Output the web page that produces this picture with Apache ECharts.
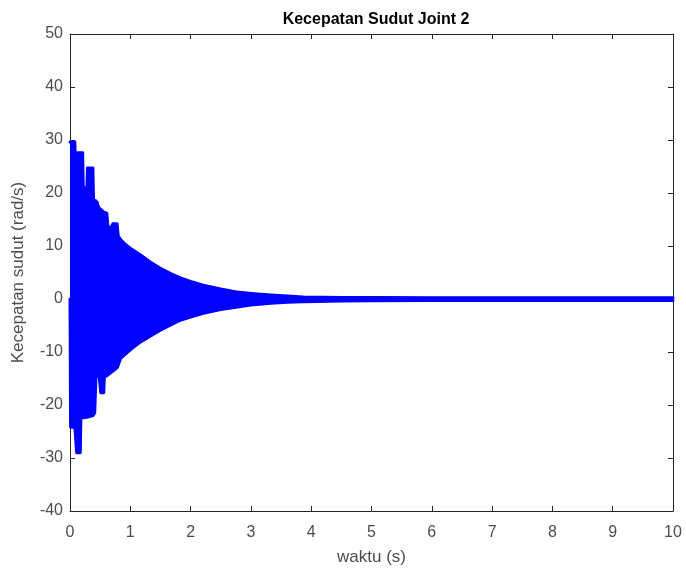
<!DOCTYPE html>
<html>
<head>
<meta charset="utf-8">
<script src="https://cdn.jsdelivr.net/npm/echarts@6/dist/echarts.min.js"></script>
<style>html,body{margin:0;padding:0;background:#fff}#c{width:686px;height:569px}</style>
</head>
<body>
<div id="c"></div>
<script>
// time samples (s)
const timeS = [0, 0.01, 0.08, 0.09, 0.11, 0.12, 0.17, 0.18, 0.21, 0.22, 0.28, 0.29, 0.38, 0.39, 0.41, 0.43, 0.46, 0.48, 0.5, 0.51, 0.56, 0.57, 0.61, 0.63, 0.69, 0.71, 0.78, 0.8, 0.84, 0.9, 1.0, 1.17, 1.33, 1.5, 1.67, 1.83, 2.0, 2.21, 2.5, 2.78, 3.0, 3.33, 3.6, 3.87, 4.5, 5, 6, 7, 8, 9, 10];
// upper envelope of the oscillation (rad/s)
const upperV = [29.6, 29.6, 29.6, 25.6, 25.6, 27.6, 27.6, 27.6, 27.6, 21, 21, 24.7, 24.7, 18.7, 18.7, 18.5, 18.3, 17.2, 17.0, 17.0, 16.4, 16.3, 16.2, 13.6, 13.6, 14.2, 14.2, 11.9, 11.2, 10.5, 9.6, 8.3, 7.0, 5.8, 4.8, 4.0, 3.3, 2.6, 1.9, 1.3, 1.05, 0.75, 0.55, 0.4, 0.3, 0.28, 0.25, 0.25, 0.25, 0.25, 0.25];
// lower envelope of the oscillation (rad/s)
const lowerV = [0, -24.2, -24.2, -24.2, -29, -29, -29, -22.5, -22.5, -22.4, -22.3, -22.2, -22, -21.8, -21.5, -14.7, -14.5, -14.2, -14, -17.7, -17.7, -14.7, -14.5, -14.3, -13.8, -13.5, -13, -12.8, -11.2, -10.6, -9.6, -8.1, -7.0, -5.9, -4.9, -4.0, -3.4, -2.7, -2.0, -1.5, -1.15, -0.8, -0.6, -0.5, -0.38, -0.33, -0.3, -0.3, -0.3, -0.3, -0.3];
const xTicks = [0,1,2,3,4,5,6,7,8,9,10];
const yTicks = [-40,-30,-20,-10,0,10,20,30,40,50];

const blue = '#0000ff';
const font = '"Liberation Sans", Arial, sans-serif';
const axisCol = '#262626';
const labCol = '#4d4d4d';

const lowerPts = timeS.map((t,i)=>[t, lowerV[i]]);
const upperPts = timeS.map((t,i)=>[t, upperV[i]]);
// band segments between consecutive samples
const segs = [];
for (let i=0;i<timeS.length-1;i++){
  segs.push([timeS[i], lowerV[i], upperV[i], timeS[i+1], lowerV[i+1], upperV[i+1]]);
}

function xAx(pos, show){
  return {type:'value', position:pos, min:xTicks[0], max:xTicks[xTicks.length-1], interval:1,
    axisLine:{show:true, onZero:false, lineStyle:{color:axisCol, width:1}},
    axisTick:{show:true, inside:true, length:5, lineStyle:{color:axisCol}},
    axisLabel:{show:show, color:labCol, fontSize:16, fontFamily:font, margin:14},
    splitLine:{show:false},
    name: show ? 'waktu (s)' : '', nameLocation:'middle', nameGap:38,
    nameTextStyle:{color:labCol, fontSize:17, fontFamily:font}};
}
function yAx(pos, show){
  return {type:'value', position:pos, min:yTicks[0], max:yTicks[yTicks.length-1], interval:10,
    axisLine:{show:true, onZero:false, lineStyle:{color:axisCol, width:1}},
    axisTick:{show:true, inside:true, length:5, lineStyle:{color:axisCol}},
    axisLabel:{show:show, color:labCol, fontSize:16, fontFamily:font, margin:7},
    splitLine:{show:false},
    name: show ? 'Kecepatan sudut (rad/s)' : '', nameLocation:'middle', nameGap:43,
    nameTextStyle:{color:labCol, fontSize:17, fontFamily:font}};
}

const chart = echarts.init(document.getElementById('c'), null, {renderer:'canvas'});
chart.setOption({
  animation:false,
  backgroundColor:'#fff',
  title:{text:'Kecepatan Sudut Joint 2', left:371, top:7, textAlign:'center',
    textStyle:{fontSize:16, fontWeight:'bold', color:'#000', fontFamily:font}},
  grid:{left:70, right:13, top:34, bottom:58, containLabel:false, outerBoundsMode:'none'},
  xAxis:[xAx('bottom', true), xAx('top', false)],
  yAxis:[yAx('left', true), yAx('right', false)],
  series:[
    {type:'custom', data:segs, silent:true, clip:true,
      encode:{x:[0,3], y:[1,2,4,5]},
      renderItem:function(params, api){
        const a = api.coord([api.value(0), api.value(1)]);
        const b = api.coord([api.value(0), api.value(2)]);
        const c = api.coord([api.value(3), api.value(5)]);
        const d = api.coord([api.value(3), api.value(4)]);
        return {type:'polygon', shape:{points:[a,b,c,d]},
          style:{fill:blue, stroke:blue, lineWidth:1.5, lineJoin:'round'}};
      }},
    {type:'line', data:upperPts, symbol:'none', lineStyle:{color:blue, width:3, join:'round', cap:'round'}, silent:true},
    {type:'line', data:lowerPts, symbol:'none', lineStyle:{color:blue, width:3, join:'round', cap:'round'}, silent:true}
  ]
});
</script>
</body>
</html>
